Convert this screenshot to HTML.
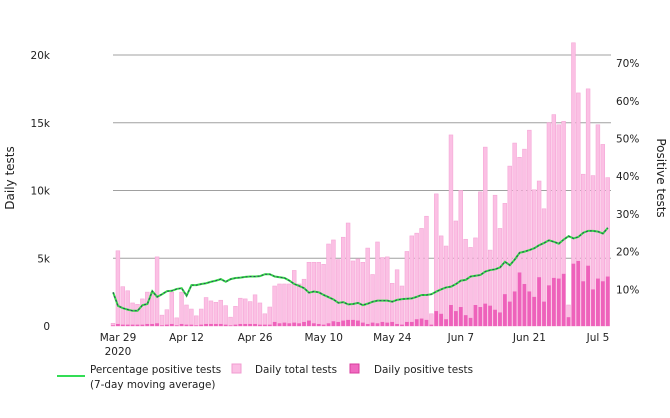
<!DOCTYPE html>
<html><head><meta charset="utf-8"><style>
body{margin:0;background:#fff;}
svg{display:block;font-family:"DejaVu Sans","Liberation Sans",sans-serif;}
</style></head><body>
<svg id="c" width="670" height="418">
<g id="grid"></g><g id="bars"></g><g id="line"></g><g id="axes"></g>
<g font-size="10.4">
<line x1="57" y1="376" x2="85" y2="376" stroke="#33dd55" stroke-width="2"/>
<text x="90" y="373" fill="#222">Percentage positive tests</text>
<text x="90" y="388" fill="#222">(7-day moving average)</text>
<rect x="232" y="364" width="9" height="9" fill="#fbc0e4" stroke="#f29bd0"/>
<text x="255" y="373" fill="#222">Daily total tests</text>
<rect x="350" y="364" width="9" height="9" fill="#f06ac0" stroke="#d83d9e"/>
<text x="374" y="373" fill="#222">Daily positive tests</text>
</g>
</svg>
<script>
const totals=[0.2,5.55,2.9,2.6,1.7,1.6,2.0,2.5,2.5,5.1,0.8,1.2,2.5,0.6,2.5,1.55,1.25,0.75,1.25,2.1,1.85,1.75,1.9,1.5,0.65,1.45,2.05,2.0,1.8,2.3,1.7,0.9,1.4,2.95,3.1,3.1,3.1,4.1,3.1,3.45,4.7,4.7,4.7,4.55,6.05,6.35,4.9,6.55,7.6,4.8,4.95,4.7,5.75,3.8,6.2,5.05,5.1,3.15,4.15,2.95,5.5,6.65,6.85,7.2,8.1,0.9,9.75,6.65,5.9,14.1,7.75,10.0,6.4,5.8,6.5,9.9,13.2,5.6,9.65,7.2,9.05,11.8,13.5,12.45,13.05,14.45,10.05,10.7,8.65,15.0,15.6,14.85,15.1,1.55,20.9,17.2,11.2,17.5,11.1,14.85,13.4,10.95];
const positives=[0.05,0.15,0.1,0.1,0.1,0.1,0.1,0.15,0.15,0.2,0.05,0.1,0.15,0.05,0.15,0.1,0.1,0.05,0.1,0.15,0.15,0.15,0.15,0.1,0.05,0.1,0.15,0.15,0.15,0.15,0.1,0.1,0.1,0.3,0.2,0.25,0.2,0.25,0.2,0.3,0.4,0.2,0.15,0.1,0.2,0.35,0.3,0.4,0.45,0.45,0.4,0.25,0.15,0.25,0.2,0.3,0.25,0.3,0.15,0.1,0.3,0.3,0.5,0.55,0.45,0.1,1.1,0.9,0.5,1.55,1.1,1.4,0.8,0.6,1.55,1.4,1.65,1.5,1.2,1.0,2.35,1.8,2.55,3.95,3.1,2.55,2.15,3.6,1.8,3.0,3.55,3.5,3.85,0.65,4.6,4.8,3.3,4.45,2.7,3.5,3.3,3.65];
const pct=[9.2,5.6,5.0,4.6,4.3,4.3,5.8,6.1,9.5,8.0,8.7,9.5,9.6,10.1,10.3,8.3,11.1,11.1,11.4,11.6,12.0,12.3,12.7,12.0,12.7,13.0,13.1,13.3,13.4,13.4,13.5,14.0,14.0,13.4,13.2,13.0,12.3,11.4,10.9,10.3,9.1,9.4,9.2,8.5,7.9,7.3,6.4,6.6,6.0,6.1,6.4,5.8,6.2,6.7,7.0,7.0,7.0,6.7,7.2,7.4,7.5,7.6,8.0,8.5,8.5,8.7,9.4,10.0,10.5,10.7,11.4,12.3,12.5,13.4,13.6,13.8,14.7,15.1,15.3,15.8,17.3,16.4,17.9,19.7,20.0,20.4,20.9,21.7,22.3,23.0,22.6,22.1,23.2,24.1,23.5,23.9,25.0,25.5,25.5,25.3,24.8,26.3];
const leftTicks=[0,5,10,15,20];
const leftTickLabels=["0","5k","10k","15k","20k"];
const rightTicks=[10,20,30,40,50,60,70];
const dateTickIdx=[1,15,29,43,57,71,85,99];
const dateTickLabels=["Mar 29","Apr 12","Apr 26","May 10","May 24","Jun 7","Jun 21","Jul 5"];
const NS="http://www.w3.org/2000/svg";
const xOf=i=>118+(i-1)*4.898;
const yL=v=>326-v*13.55;
const yR=p=>327-p*3.77;
function el(t,a,p){const e=document.createElementNS(NS,t);for(const k in a)e.setAttribute(k,a[k]);document.getElementById(p).appendChild(e);return e;}
leftTicks.forEach((v,i)=>{
 if(v>0){const g=el('line',{x1:113,x2:611,y1:yL(v),y2:yL(v),stroke:'#a0a0a0','stroke-width':1},'grid');
 
 }
 const t=el('text',{x:50,y:yL(v)+4,'text-anchor':'end','font-size':10.5,fill:'#222'},'axes');t.textContent=leftTickLabels[i];
 
 
});
rightTicks.forEach(p=>{
 const t=el('text',{x:616,y:yR(p)+4,'font-size':10.5,fill:'#222'},'axes');t.textContent=p+'%';
 
 
});
dateTickIdx.forEach((d,i)=>{
 const t=el('text',{x:xOf(d),y:341,'text-anchor':'middle','font-size':10.5,fill:'#222'},'axes');t.textContent=dateTickLabels[i];
 
 
});
let yr=el('text',{x:xOf(1),y:355,'text-anchor':'middle','font-size':10.5,fill:'#222'},'axes');yr.textContent='2020';


let lt=el('text',{transform:'translate(14,178) rotate(-90)','text-anchor':'middle','font-size':12,fill:'#222'},'axes');lt.textContent='Daily tests';


let rt=el('text',{transform:'translate(657,178) rotate(90)','text-anchor':'middle','font-size':12,fill:'#222'},'axes');rt.textContent='Positive tests';


totals.forEach((v,i)=>{
 const x=xOf(i)-2;
 const b=el('rect',{x:x,y:yL(v),width:3.8,height:yL(0)-yL(v),fill:'#fbc0e4',stroke:'#f5a6d6','stroke-width':0.6},'bars');
 
 
 const pv=positives[i];
 const pb=el('rect',{x:x,y:yL(pv),width:3.8,height:yL(0)-yL(pv),fill:'#ee62bb'},'bars');
 
 
});
const pts=pct.map((p,i)=>xOf(i)+','+yR(p)).join(' ');
const ln=el('polyline',{points:pts,fill:'none',stroke:'#33dd44','stroke-width':2},'line');


const ov=el('polyline',{points:pts,fill:'none',stroke:'#334466','stroke-width':1,'stroke-dasharray':'2,2'},'line');


</script>
</body></html>
